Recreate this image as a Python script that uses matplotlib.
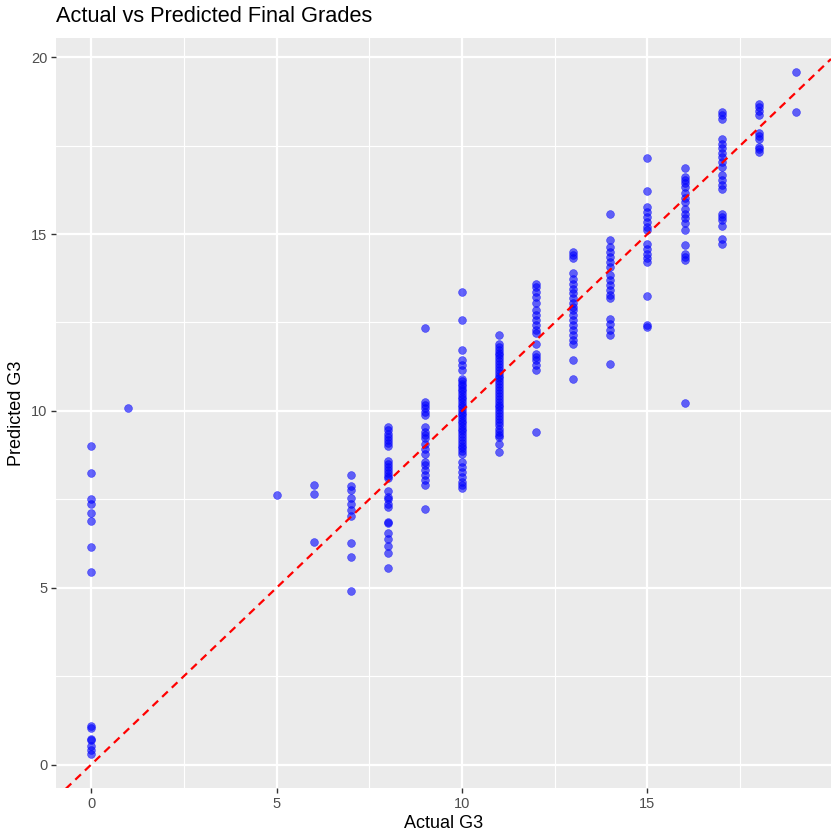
import numpy as np
import matplotlib
matplotlib.use("Agg")
import matplotlib.pyplot as plt

# predicted G3 values, grouped by the actual G3 grade
pred_g0 = [9.02, 8.25, 7.52, 7.36, 7.12, 6.90, 6.16, 5.44,
           1.08, 1.02, 0.73, 0.70, 0.52, 0.42, 0.30]
pred_g1 = [10.07]
pred_g5 = [7.63]
pred_g6 = [7.91, 7.66, 6.29]
pred_g7 = [8.20, 7.87, 7.75, 7.55, 7.36, 7.19, 7.03, 6.27, 5.88, 4.92]
pred_g8 = [9.54, 9.45, 9.36, 9.27, 9.18, 9.09, 9.00, 8.57, 8.49, 8.41, 8.34,
           8.25, 8.16, 8.11, 7.73, 7.56, 7.52, 7.38, 7.28, 6.86, 6.83, 6.56,
           6.37, 6.18, 5.98, 5.56]
pred_g9 = [12.35, 10.25, 10.16, 10.07, 9.97, 9.88, 9.54, 9.40, 9.31, 9.22,
           9.07, 8.93, 8.79, 8.55, 8.46, 8.32, 8.18, 8.04, 7.89, 7.22]
pred_g10 = [13.36, 12.57, 11.71, 11.43, 11.29, 11.17, 10.91, 10.84, 10.77,
            10.70, 10.62, 10.55, 10.48, 10.40, 10.33, 10.26, 10.18, 10.10,
            10.03, 9.95, 9.88, 9.80, 9.72, 9.65, 9.57, 9.50, 9.42, 9.34,
            9.26, 9.18, 9.10, 9.02, 8.94, 8.86, 8.79, 8.55, 8.41, 8.27,
            8.13, 7.99, 7.89, 7.83]
pred_g11 = [12.14, 11.90, 11.81, 11.73, 11.65, 11.57, 11.49, 11.40, 11.32,
            11.24, 11.16, 11.08, 11.00, 10.92, 10.84, 10.75, 10.67, 10.59,
            10.51, 10.43, 10.35, 10.26, 10.18, 10.10, 10.02, 9.93, 9.85,
            9.76, 9.68, 9.59, 9.50, 9.41, 9.33, 9.26, 9.07, 8.84]
pred_g12 = [13.60, 13.51, 13.37, 13.22, 13.04, 12.85, 12.71, 12.56, 12.42,
            12.28, 12.19, 11.90, 11.62, 11.53, 11.43, 11.29, 11.15, 9.41]
pred_g13 = [14.50, 14.40, 14.31, 13.89, 13.74, 13.60, 13.46, 13.32, 13.18,
            13.04, 12.94, 12.85, 12.71, 12.56, 12.42, 12.28, 12.14, 12.00,
            11.88, 11.43, 10.90]
pred_g14 = [15.58, 14.83, 14.64, 14.50, 14.36, 14.21, 14.07, 13.84, 13.70,
            13.55, 13.41, 13.27, 13.18, 12.61, 12.47, 12.28, 12.14, 11.32]
pred_g15 = [17.16, 16.21, 15.77, 15.63, 15.49, 15.35, 15.20, 15.11, 14.73,
            14.59, 14.45, 14.31, 14.21, 13.24, 12.42, 12.37]
pred_g16 = [16.87, 16.62, 16.53, 16.43, 16.34, 16.15, 16.01, 15.91, 15.72,
            15.58, 15.44, 15.30, 15.11, 14.69, 14.45, 14.36, 14.26, 10.21]
pred_g17 = [18.46, 18.36, 18.24, 17.70, 17.56, 17.42, 17.28, 17.18, 17.04,
            16.90, 16.67, 16.53, 16.39, 16.26, 15.58, 15.49, 15.39, 15.22,
            14.87, 14.73]
pred_g18 = [18.69, 18.60, 18.48, 18.36, 17.86, 17.77, 17.70, 17.47, 17.40, 17.33]
pred_g19 = [19.58, 18.45]

groups = [(0, pred_g0), (1, pred_g1), (5, pred_g5), (6, pred_g6), (7, pred_g7),
          (8, pred_g8), (9, pred_g9), (10, pred_g10), (11, pred_g11),
          (12, pred_g12), (13, pred_g13), (14, pred_g14), (15, pred_g15),
          (16, pred_g16), (17, pred_g17), (18, pred_g18), (19, pred_g19)]

actual = np.concatenate([[g] * len(p) for g, p in groups]).astype(float)
predicted = np.concatenate([p for g, p in groups])

# ====================================================================================================
# ggplot-like figure

fig = plt.figure(figsize=(8.4, 8.4), dpi=100)
ax = fig.add_axes([56/840, 1 - 788/840, (831 - 56)/840, (788 - 38)/840])

ax.set_facecolor('#EBEBEB')
for s in ax.spines.values():
    s.set_visible(False)

xr = actual.max() - actual.min()
yr = predicted.max() - predicted.min()
ax.set_xlim(actual.min() - 0.05*xr, actual.max() + 0.05*xr)
ax.set_ylim(predicted.min() - 0.05*yr, predicted.max() + 0.05*yr)

ax.set_xticks([0, 5, 10, 15])
ax.set_yticks([0, 5, 10, 15, 20])
ax.set_xticks([2.5, 7.5, 12.5, 17.5], minor=True)
ax.set_yticks([2.5, 7.5, 12.5, 17.5], minor=True)
ax.grid(which='major', color='white', linewidth=1.6)
ax.grid(which='minor', color='white', linewidth=0.8)
ax.set_axisbelow(True)

ax.tick_params(which='major', length=3.3, width=1.0, color='#333333',
               labelsize=10.5, labelcolor='#4D4D4D', pad=3)
ax.tick_params(which='minor', length=0)
for lab in ax.get_xticklabels() + ax.get_yticklabels():
    lab.set_fontfamily('Liberation Sans')

ax.scatter(actual, predicted, s=32, color='blue', alpha=0.6,
           edgecolors=(0, 0, 1, 0.75), linewidths=0.4, zorder=3)

xl = np.array(ax.get_xlim())
ax.plot(xl, xl, color='red', linewidth=1.6, linestyle=(0, (3.5, 2.5)), zorder=4)
ax.set_xlim(*xl)

ax.set_xlabel('Actual G3', fontsize=13, family='Liberation Sans', labelpad=3)
ax.set_ylabel('Predicted G3', fontsize=13, family='Liberation Sans', labelpad=4)
fig.text(56/840, 1 - 17/840, 'Actual vs Predicted Final Grades', fontsize=15.7,
         family='Liberation Sans', ha='left', va='center')

fig.savefig('out.png', dpi=100)
